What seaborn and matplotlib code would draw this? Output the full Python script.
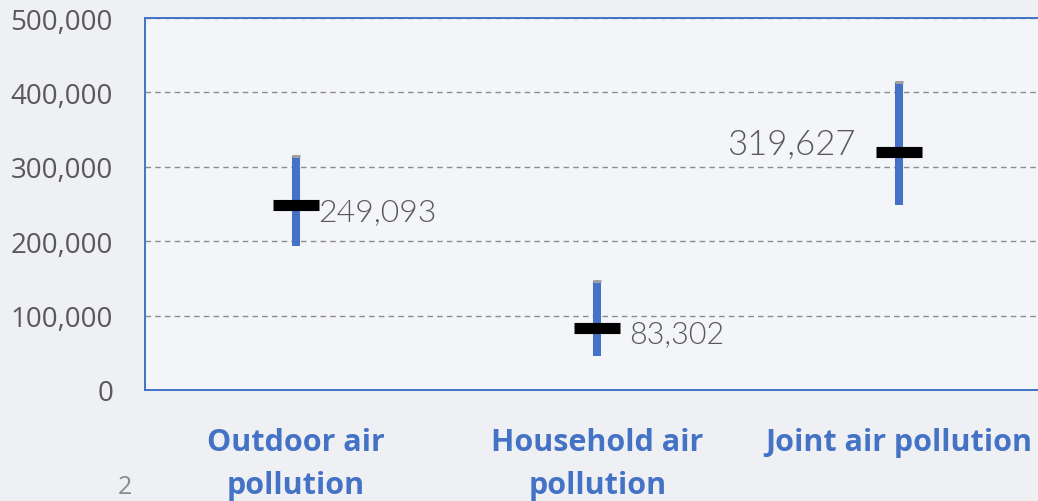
import matplotlib
matplotlib.use("Agg")
import matplotlib.pyplot as plt
import seaborn as sns
import pandas as pd
from matplotlib.ticker import FuncFormatter

categories = ["Outdoor air\npollution", "Household air\npollution", "Joint air pollution"]
central = [249093, 83302, 319627]
lower = [194000, 46000, 249000]
upper = [315000, 146000, 414000]
value_labels = ["249,093", "83,302", "319,627"]
yticks = [0, 100000, 200000, 300000, 400000, 500000]

df = pd.DataFrame({"cat": categories, "central": central, "lower": lower, "upper": upper})
df["pos"] = range(len(df))

sns.set_theme(style="white")
plt.rcParams["font.family"] = ["Open Sans", "DejaVu Sans"]

BLUE = "#4472C4"
GRAY = "#595959"

fig = plt.figure(figsize=(10.38, 5.02), dpi=100, facecolor="#eef0f4")
ax = fig.add_axes([145/1038, 111/502, 1 - 145/1038, 372/502])
ax.set_facecolor("#f4f5f8")

# uncertainty ranges
ax.vlines(df["pos"], df["lower"], df["upper"], color=BLUE, linewidth=5.8, zorder=3)
# small gray tip
sns.scatterplot(data=df, x="pos", y="upper", marker="_", s=30, color="#a0a0a0",
                linewidth=2.2, ax=ax, zorder=4, legend=False)
# central estimate
sns.scatterplot(data=df, x="pos", y="central", marker="_", s=1100, color="black",
                linewidth=8, ax=ax, zorder=5, legend=False)

styles = [(16, -5, "left", 23), (23, -4, "left", 22), (-31, 6, "right", 25)]
for i, (lab, (dx, dy, ha, fs)) in enumerate(zip(value_labels, styles)):
    ax.annotate(lab, (df["pos"][i], df["central"][i]), xytext=(dx, dy),
                textcoords="offset points", ha=ha, va="center",
                fontsize=fs, color=GRAY, family=["Lato", "DejaVu Sans"], fontweight=300)

ax.set_xlim(-0.5, 2.461)
ax.set_ylim(0, 500000)
ax.set_yticks(yticks)
ax.yaxis.set_major_formatter(FuncFormatter(lambda v, p: f"{int(v):,}"))
ax.set_xticks(df["pos"])
ax.set_xticklabels(categories)
ax.tick_params(axis="y", labelsize=20, labelcolor=GRAY, length=0, pad=23)
ax.tick_params(axis="x", labelsize=22, labelcolor=BLUE, length=0, pad=27)
for t in ax.get_xticklabels():
    t.set_fontweight("bold")
    t.set_linespacing(1.55)
    t.set_verticalalignment("top")

ax.grid(axis="y", linestyle=(0, (4, 3)), color="#8c8c8c", linewidth=1.0)
ax.grid(axis="x", visible=False)
for s in ["left", "top", "bottom"]:
    ax.spines[s].set_color(BLUE)
    ax.spines[s].set_linewidth(1.4)
ax.spines["right"].set_visible(False)
ax.set_xlabel("")
ax.set_ylabel("")

fig.text(125/1038, 1 - 500/502, "2", fontsize=18, color="#8a8a8a", ha="center", va="bottom")

fig.savefig("out.png", dpi=100, facecolor=fig.get_facecolor())
